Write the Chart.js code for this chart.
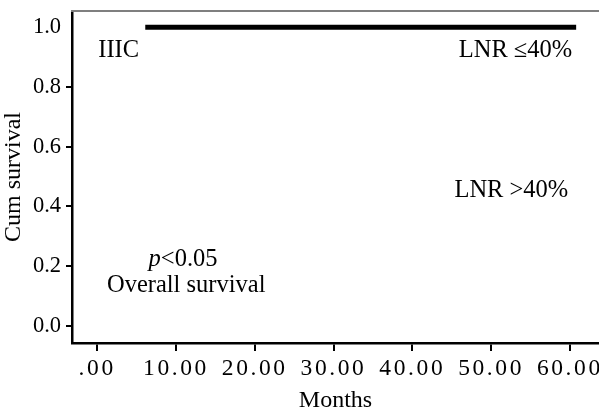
<!DOCTYPE html>
<html>
<head>
<meta charset="utf-8">
<script src="https://cdn.jsdelivr.net/npm/chart.js@4"></script>
<style>
  html, body { margin: 0; padding: 0; background: #ffffff; }
  #wrap { width: 599px; height: 411px; }
</style>
</head>
<body>
<div id="wrap"><canvas id="c" width="599" height="411"></canvas></div>
<script>
// ---- data ----
const months = [6.1, 60.8];          // follow-up span of the plotted curve
const cumSurvival = [1.0, 1.0];      // cumulative survival (LNR <=40%)
const xTicks = [0, 10, 20, 30, 40, 50, 60];
const yTicks = [0, 0.2, 0.4, 0.6, 0.8, 1.0];
const xTitle = 'Months';
const yTitle = 'Cum survival';
const groupLabel = 'IIIC';
const curveLabels = ['LNR \u226440%', 'LNR >40%'];
const pLabel = ['p', '<0.05'];
const noteLabel = 'Overall survival';

const FONT = '"Liberation Serif", "Times New Roman", serif';
const ANN = '24.5px ' + FONT;
const ANN_I = 'italic 24.5px ' + FONT;

const points = months.map((m, i) => ({ x: m, y: cumSurvival[i] }));

const decorPlugin = {
  id: 'decor',
  beforeDraw(chart) {
    const s = chart.scales.x;
    if (s && !s._lsPatched) {
      const orig = s.drawLabels.bind(s);
      s.drawLabels = function (ca) {
        const ctx = this.ctx;
        ctx.save();
        ctx.letterSpacing = '2.6px';
        orig(ca);
        ctx.restore();
      };
      s._lsPatched = true;
    }
  },
  afterDraw(chart) {
    const ctx = chart.ctx;
    const a = chart.chartArea;
    const xs = chart.scales.x, ys = chart.scales.y;
    ctx.save();
    // grey top frame line
    ctx.strokeStyle = '#7f7f7f';
    ctx.lineWidth = 2;
    ctx.beginPath();
    ctx.moveTo(a.left - 1, a.top);
    ctx.lineTo(a.right, a.top);
    ctx.stroke();

    ctx.fillStyle = '#000';
    ctx.textBaseline = 'alphabetic';
    ctx.font = ANN;
    // group label
    ctx.textAlign = 'left';
    ctx.fillText(groupLabel, xs.getPixelForValue(0.13), ys.getPixelForValue(0.90));
    // curve labels
    ctx.textAlign = 'right';
    ctx.fillText(curveLabels[0], xs.getPixelForValue(60.3), ys.getPixelForValue(0.90));
    ctx.fillText(curveLabels[1], xs.getPixelForValue(59.8), ys.getPixelForValue(0.431));
    // p value
    const cx = xs.getPixelForValue(10.9);
    const py = ys.getPixelForValue(0.200);
    ctx.font = ANN_I;
    const w1 = ctx.measureText(pLabel[0]).width;
    ctx.font = ANN;
    const w2 = ctx.measureText(pLabel[1]).width;
    const start = cx - (w1 + w2) / 2;
    ctx.textAlign = 'left';
    ctx.font = ANN_I;
    ctx.fillText(pLabel[0], start, py);
    ctx.font = ANN;
    ctx.fillText(pLabel[1], start + w1, py);
    // note
    ctx.textAlign = 'center';
    ctx.fillText(noteLabel, xs.getPixelForValue(11.3), ys.getPixelForValue(0.112));
    ctx.restore();
  }
};

new Chart(document.getElementById('c'), {
  type: 'line',
  data: {
    datasets: [{
      label: curveLabels[0],
      data: points,
      borderColor: '#000000',
      borderWidth: 5,
      pointRadius: 0,
      stepped: true,
      fill: false,
      borderCapStyle: 'butt'
    }]
  },
  options: {
    responsive: false,
    animation: false,
    devicePixelRatio: 1,
    layout: { padding: { top: 11, right: 0, left: 0, bottom: 0 } },
    plugins: { legend: { display: false }, tooltip: { enabled: false } },
    scales: {
      x: {
        type: 'linear',
        min: -3.2,
        max: 63.7,
        afterBuildTicks: (s) => { s.ticks = xTicks.map(v => ({ value: v })); },
        afterFit: (s) => { s.height = 68; s.paddingLeft = 0; s.paddingRight = 0; },
        border: { display: true, color: '#000', width: 2.5 },
        grid: { drawOnChartArea: false, drawTicks: true, tickLength: 8, color: '#000', lineWidth: 2 },
        ticks: {
          color: '#000',
          padding: 4,
          maxRotation: 0,
          autoSkip: false,
          font: { family: FONT, size: 23.5 },
          callback: (v) => (v === 0 ? '.00' : Number(v).toFixed(2))
        },
        title: {
          display: true, text: xTitle, color: '#000',
          font: { family: FONT, size: 24, lineHeight: 0.85 },
          padding: { top: 0, bottom: 0 }
        }
      },
      y: {
        type: 'linear',
        min: -0.057,
        max: 1.054,
        afterBuildTicks: (s) => { s.ticks = yTicks.map(v => ({ value: v })); },
        afterFit: (s) => { s.width = 72; s.paddingTop = 0; s.paddingBottom = 0; },
        border: { display: true, color: '#000', width: 2.5 },
        grid: {
          drawOnChartArea: false, drawTicks: true, tickLength: 6, lineWidth: 2,
          color: (c) => (c.tick && c.tick.value === 1 ? 'rgba(0,0,0,0)' : '#000')
        },
        ticks: {
          color: '#000',
          padding: 5,
          autoSkip: false,
          font: { family: FONT, size: 22.5 },
          callback: (v) => Number(v).toFixed(1)
        },
        title: {
          display: true, text: yTitle, color: '#000',
          font: { family: FONT, size: 24, lineHeight: 1.0 },
          padding: { top: 2, bottom: 0 }
        }
      }
    }
  },
  plugins: [decorPlugin]
});
</script>
</body>
</html>
